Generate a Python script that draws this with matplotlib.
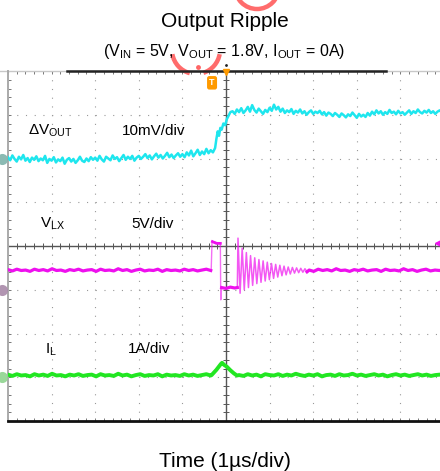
import numpy as np
import matplotlib
matplotlib.use("Agg")
import matplotlib.pyplot as plt
from matplotlib.patches import Circle, Arc

plt.rcParams['font.family'] = ['Liberation Sans', 'DejaVu Sans']
plt.rcParams['mathtext.fontset'] = 'custom'
plt.rcParams['mathtext.rm'] = 'Liberation Sans'
plt.rcParams['mathtext.it'] = 'Liberation Sans:italic'
plt.rcParams['mathtext.bf'] = 'Liberation Sans:bold'

# ---------------- data (screen divisions; x: 1 us/div) ----------------
# Delta V_OUT (cyan), before the load step
vout_pre = [2.03,1.96,2.07,1.99,1.93,2.04,1.98,2.08,1.95,2.01,1.92,2.02,1.97,2.05,1.94,2.00,1.96,2.06,1.90,1.99,
            1.95,2.03,1.91,1.98,1.94,2.02,1.88,1.97,2.01,1.93,1.99,1.90,1.96,2.04,1.95,1.92,2.00,1.94,2.03,1.97,
            2.02,1.95,2.06,1.98,1.93,2.04,2.00,1.96,2.07,1.99,2.03,1.94,2.01,2.08,1.97,2.04,1.99,2.06,1.95,2.02,
            2.06,1.99,2.04,2.10,2.01,2.07,1.98,2.05,2.11,2.02,2.08,2.00,2.06,2.13,2.03,2.09,2.01,2.07,2.12,2.04,
            2.10,2.03,2.14,2.07,2.18,2.05,2.12,2.20,2.08,2.16,2.10,2.22,2.12,2.19,2.14,2.24]
vout_step_t = [-0.22,-0.19,-0.16,-0.13,-0.10,-0.06,-0.02,0.02,0.06,0.10]
vout_step = [2.45,2.62,2.52,2.70,2.66,2.80,2.76,2.90,2.98,3.06]
vout_post = [3.08,3.02,3.12,3.06,3.15,3.04,3.10,3.18,3.07,3.22,3.11,3.05,3.14,3.08,3.02,3.11,3.06,3.16,3.09,3.23,
             3.12,3.18,3.07,3.14,3.04,3.10,3.06,3.13,3.02,3.09,3.05,3.12,3.03,3.08,3.00,3.06,3.10,3.02,3.07,3.04,
             3.09,3.01,3.06,2.98,3.05,3.02,2.97,3.04,3.00,2.95,3.03,2.99,2.94,3.01,2.97,3.05,2.99,2.93,3.02,2.96,
             3.00,2.95,3.04,2.98,3.07,3.01,3.10,3.03,3.08,3.00,3.06,3.02,3.11,3.04,3.07,3.01,3.09,3.03,3.06,3.00,
             3.05,3.10,3.02,3.08,3.04,3.12,3.06,3.03,3.09,3.05,3.11,3.04,3.08,3.02,3.07,3.10,3.05,3.08]

# V_LX (magenta)
vlx_pre = [-0.54,-0.57,-0.53,-0.56,-0.55,-0.58,-0.53,-0.56,-0.54,-0.57,-0.52,-0.56,-0.55,-0.58,-0.54,-0.56,
           -0.53,-0.57,-0.55,-0.54,-0.58,-0.53,-0.56,-0.55,-0.57,-0.52,-0.56,-0.54,-0.58,-0.55,-0.53,-0.57,
           -0.55,-0.56,-0.53,-0.58,-0.54,-0.56,-0.55,-0.57,-0.53,-0.56,-0.54,-0.57,-0.55,-0.53,-0.56]
vlx_high_t = [-0.31, -0.22, -0.13]
vlx_high = [0.10, 0.06, 0.06]
vlx_low_t = [-0.10, 0.00, 0.10, 0.20, 0.26]
vlx_low = [-0.95, -0.97, -0.94, -0.96, -0.95]
vlx_edge_t = [-0.34, -0.32, -0.31, -0.13, -0.12, -0.11, -0.10]
vlx_edge = [-0.56, 0.12, 0.10, 0.06, -1.23, -1.10, -0.95]
ring_start = 0.275
ring_period = 0.096
ring_peaks = [0.18,-0.05,-0.15,-0.22,-0.27,-0.31,-0.34,-0.37,-0.40,-0.42,-0.44,-0.46,-0.48,-0.49,-0.50,-0.51,-0.52]
ring_troughs = [-1.08,-1.00,-0.95,-0.90,-0.86,-0.83,-0.80,-0.77,-0.74,-0.71,-0.68,-0.66,-0.64,-0.62,-0.61,-0.60,-0.59]
vlx_post = [-0.55,-0.58,-0.53,-0.56,-0.54,-0.57,-0.52,-0.56,-0.55,-0.58,-0.54,-0.56,-0.53,-0.57,-0.55,-0.54,
            -0.58,-0.53,-0.56,-0.55,-0.57,-0.52,-0.56,-0.54,-0.58,-0.55,-0.53,-0.57,-0.55,-0.56,-0.54]

# I_L (green)
il_pre = [-2.94,-2.97,-2.93,-2.96,-2.95,-2.98,-2.93,-2.96,-2.94,-2.97,-2.92,-2.96,-2.95,-2.98,-2.94,-2.96,
          -2.93,-2.97,-2.95,-2.94,-2.98,-2.93,-2.96,-2.95,-2.97,-2.92,-2.96,-2.94,-2.98,-2.95,-2.93,-2.97,
          -2.95,-2.96,-2.93,-2.98,-2.94,-2.96,-2.95,-2.97,-2.93,-2.96,-2.94,-2.97,-2.95,-2.93,-2.96]
il_bump_t = [-0.33,-0.22,-0.12,-0.09,-0.04,0.02,0.10,0.18,0.25]
il_bump = [-2.95,-2.83,-2.70,-2.67,-2.72,-2.76,-2.84,-2.91,-2.96]
il_post = [-2.95,-2.97,-2.93,-2.96,-2.94,-2.98,-2.93,-2.95,-2.96,-2.93,-2.97,-2.94,-2.96,-2.92,-2.95,-2.97,
           -2.94,-2.96,-2.93,-2.98,-2.95,-2.94,-2.97,-2.93,-2.96,-2.95,-2.92,-2.96,-2.94,-2.97,-2.95,-2.93,
           -2.96,-2.94,-2.98,-2.95,-2.93,-2.96,-2.94,-2.97,-2.95,-2.93,-2.96,-2.94,-2.97,-2.95,-2.94,-2.96]

ground_levels = [2.0, -1.0, -3.0]

# ---------------- figure ----------------
W, H = 440, 471
fig = plt.figure(figsize=(W / 100, H / 100), dpi=100)
fig.patch.set_facecolor('white')

# overlay for watermark (pixel coords, y down)
ov = fig.add_axes([0, 0, 1, 1], zorder=0)
ov.set_xlim(0, W)
ov.set_ylim(H, 0)
ov.axis('off')
wm = '#ff5c5c'
ov.add_patch(Circle((257, -13), 22, fill=False, ec=wm, lw=3.2, alpha=0.9))
ov.add_patch(Arc((196, 50), 48, 48, theta1=105, theta2=170, ec=wm, lw=3.2, alpha=0.9))
ov.add_patch(Arc((196, 50), 48, 48, theta1=10, theta2=72, ec=wm, lw=3.2, alpha=0.9))
ov.plot([198], [67], 'o', ms=2.5, color=wm, alpha=0.9)

ax = fig.add_axes([8 / W, 50 / H, 436 / W, 350 / H], zorder=1)
ax.patch.set_alpha(0)
ax.set_xlim(-5, 5)
ax.set_ylim(-4, 4)
ax.set_xticks(np.arange(-5, 6, 1))
ax.set_yticks(np.arange(-4, 5, 1))
ax.set_xticks(np.arange(-5, 5.01, 0.2), minor=True)
ax.set_yticks(np.arange(-4, 4.01, 0.2), minor=True)
ax.tick_params(which='both', direction='in', length=2.3, width=0.7, color='#777',
               top=True, bottom=True, left=True, right=False,
               labelbottom=False, labelleft=False)
ax.grid(True, which='major', color='#999', linestyle=(0, (1, 6.85)), linewidth=0.8)

ax.spines['top'].set_visible(False)
ax.spines['right'].set_visible(False)
ax.spines['left'].set_color('#aaa')
ax.spines['left'].set_linewidth(1.4)
ax.spines['bottom'].set_color('#111')
ax.spines['bottom'].set_linewidth(2.0)
ax.plot([-5.3, 5.3], [4, 4], color='#c8c8c8', lw=1.0, clip_on=False, zorder=2)
ax.plot([-3.65, 3.66], [4, 4], color='#222', lw=1.8, clip_on=False, zorder=2)

# center cross with ticks
ax.axhline(0, color='#555', lw=1.0, zorder=2)
ax.axvline(0, color='#555', lw=1.0, zorder=2)
minor_x = np.arange(-5, 5.01, 0.2)
minor_y = np.arange(-4, 4.01, 0.2)
ax.plot(minor_x, np.zeros_like(minor_x), ls='none', marker='|', ms=5, mew=0.7, color='#555', zorder=2)
ax.plot(np.zeros_like(minor_y), minor_y, ls='none', marker='_', ms=5, mew=0.7, color='#555', zorder=2)

# traces
c_cyan = '#1ee6ee'
c_mag = '#ee10ee'
c_grn = '#22e622'

t_pre = np.linspace(-5.0, -0.25, len(vout_pre))
t_post = np.linspace(0.15, 5.0, len(vout_post))
vt = np.concatenate([t_pre, vout_step_t, t_post])
vv = np.concatenate([vout_pre, vout_step, vout_post])
ax.plot(vt, vv, color=c_cyan, lw=1.8, zorder=5)

# magenta
tm_pre = np.linspace(-5.0, -0.35, len(vlx_pre))
ring_t = []
ring_v = []
for k in range(len(ring_peaks)):
    ring_t += [ring_start + k * ring_period, ring_start + (k + 0.5) * ring_period]
    ring_v += [ring_peaks[k], ring_troughs[k]]
tm_post = np.linspace(ring_t[-1] + 0.05, 5.0, len(vlx_post))
# fast edges (thin, dim)
ax.plot(vlx_edge_t, vlx_edge, color=c_mag, lw=1.0, alpha=0.6, zorder=5)
ax.plot([vlx_low_t[-1], ring_start] + ring_t, [vlx_low[-1], ring_peaks[0]] + ring_v,
        color=c_mag, lw=1.1, alpha=0.7, zorder=5)
# plateaus (bright, thick)
ax.plot(tm_pre, vlx_pre, color=c_mag, lw=2.3, zorder=5)
ax.plot(vlx_high_t, vlx_high, color=c_mag, lw=2.0, zorder=5)
ax.plot(vlx_low_t, vlx_low, color=c_mag, lw=2.3, zorder=5)
ax.plot([ring_t[-1]] + list(tm_post), [ring_v[-1]] + list(vlx_post), color=c_mag, lw=2.3, zorder=5)

# green
tg_pre = np.linspace(-5.0, -0.35, len(il_pre))
tg_post = np.linspace(0.3, 5.0, len(il_post))
ax.plot(np.concatenate([tg_pre, il_bump_t, tg_post]), np.concatenate([il_pre, il_bump, il_post]),
        color=c_grn, lw=2.8, zorder=5)

# channel ground markers
gx = -5.13
for lvl, col in zip(ground_levels, ['#7fb3ab', '#a98aa9', '#8fd48f']):
    ax.plot([gx], [lvl], 'o', ms=8, mfc=col, mec='none', alpha=0.9, clip_on=False, zorder=6)

# trigger markers
ax.plot([0], [3.97], marker='v', ms=5, color='#ff9a00', clip_on=False, zorder=7)
ax.plot([0], [4.13], marker='.', ms=2, color='#222', clip_on=False, zorder=7)
ax.text(-0.32, 3.73, 'T', color='white', fontsize=6.5, fontweight='bold', ha='center', va='center',
        bbox=dict(boxstyle='round,pad=0.25', fc='#ff9a00', ec='none'), zorder=7)
ax.plot([4.87], [0.07], marker='<', ms=4, color=c_mag, clip_on=False, zorder=7)

# channel labels
fs = 11
ax.text(-4.54, 2.54, r'$\Delta\mathrm{V}_{\mathrm{OUT}}$', fontsize=fs, va='baseline', ha='left')
ax.text(-2.39, 2.54, '10mV/div', fontsize=fs, va='baseline', ha='left')
ax.text(-4.27, 0.41, r'$\mathrm{V}_{\mathrm{LX}}$', fontsize=fs, va='baseline', ha='left')
ax.text(-2.16, 0.41, '5V/div', fontsize=fs, va='baseline', ha='left')
ax.text(-4.15, -2.45, r'$\mathrm{I}_{\mathrm{L}}$', fontsize=fs, va='baseline', ha='left')
ax.text(-2.25, -2.45, '1A/div', fontsize=fs, va='baseline', ha='left')

# titles
fig.text(224.5 / W, 1 - 27 / H, 'Output Ripple', fontsize=15, ha='center', va='baseline')
fig.text(224.5 / W, 1 - 56 / H,
         r'(V$_{\mathrm{IN}}$ = 5V, V$_{\mathrm{OUT}}$ = 1.8V, I$_{\mathrm{OUT}}$ = 0A)',
         fontsize=11.5, ha='center', va='baseline')
fig.text(225 / W, 1 - 467 / H, 'Time (1µs/div)', fontsize=15, ha='center', va='baseline')

fig.savefig('out.png', dpi=100, facecolor='white')
